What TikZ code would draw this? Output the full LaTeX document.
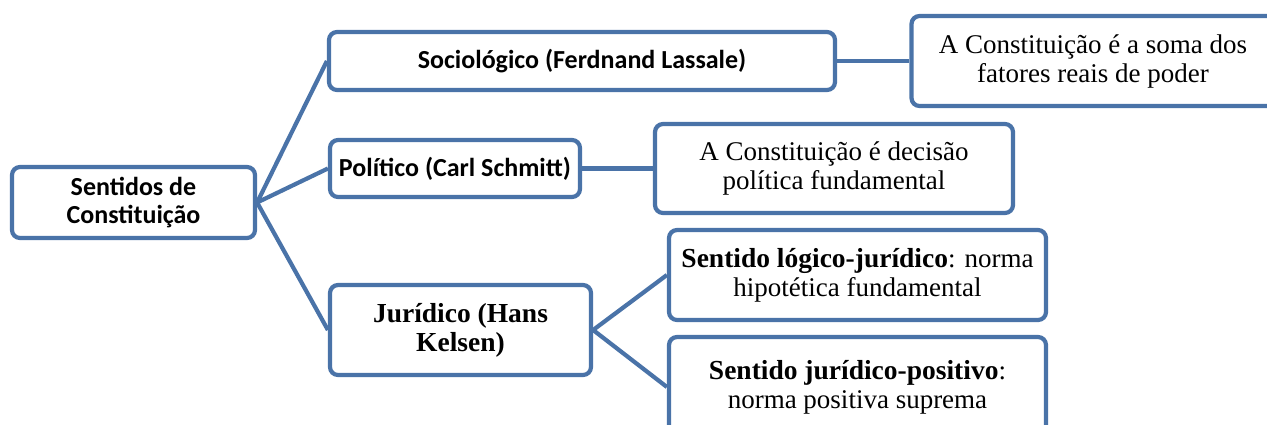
\documentclass[tikz,border=0pt]{standalone}
\usepackage{fontspec}
\setmainfont{Liberation Serif}
\newfontfamily\calibrifont{Carlito}
\definecolor{sablue}{HTML}{4A73A8}
\begin{document}
\begin{tikzpicture}[x=1pt,y=-1pt,
  box/.style={draw=sablue, line width=4.2pt, rounded corners=8pt, fill=white, align=center, inner sep=0pt},
  conn/.style={draw=sablue, line width=4.2pt},
  sansb/.style={font=\calibrifont\bfseries\fontsize{26}{28}\selectfont},
  serift/.style={font=\fontsize{27}{29}\selectfont},
  serifb/.style={font=\bfseries\fontsize{27.5}{29}\selectfont}]
\useasboundingbox (0,0) rectangle (1267,424);
\clip (0,0) rectangle (1267,424);
\node[box, sansb, minimum width=243pt, minimum height=71pt] (root) at (133.5,202.5) {Sentidos de\\Constituição};
\node[box, sansb, minimum width=506pt, minimum height=58pt] (soc) at (582,61) {Sociológico (Ferdnand Lassale)};
\node[box, sansb, minimum width=250pt, minimum height=57pt] (pol) at (455,168.5) {Político (Carl Schmitt)};
\node[box, serifb, minimum width=261pt, minimum height=90pt] (jur) at (460.5,330) {Jurídico (Hans\\Kelsen)};
\node[box, serift, minimum width=363pt, minimum height=90pt] (socd) at (1093,61) {A Constituição é a soma dos\\fatores reais de poder};
\node[box, serift, minimum width=358pt, minimum height=89pt] (pold) at (834,168.5) {A Constituição é decisão\\política fundamental};
\node[box, serift, minimum width=377pt, minimum height=90pt] (jur1) at (857.5,275) {\textbf{\fontsize{27.5}{29}\selectfont Sentido lógico-jurídico}: norma\\hipotética fundamental};
\node[box, serift, minimum width=377pt, minimum height=100pt] (jur2) at (857.5,387) {\textbf{\fontsize{27.5}{29}\selectfont Sentido jurídico-positivo}:\\norma positiva suprema};
\draw[conn] (root.east) -- (soc.west);
\draw[conn] (root.east) -- (pol.west);
\draw[conn] (root.east) -- (jur.west);
\draw[conn] (soc.east) -- (socd.west);
\draw[conn] (pol.east) -- (pold.west);
\draw[conn] (jur.east) -- (jur1.west);
\draw[conn] (jur.east) -- (jur2.west);
\end{tikzpicture}
\end{document}
